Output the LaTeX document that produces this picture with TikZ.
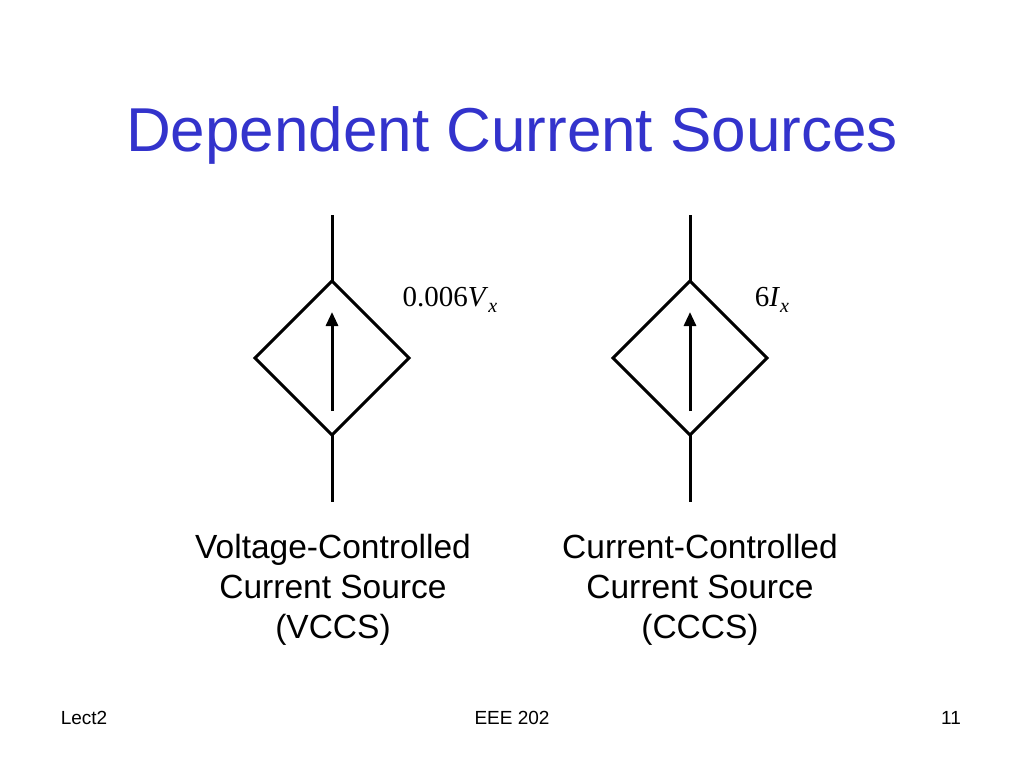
\documentclass[tikz,border=0pt]{standalone}
\usepackage{fontspec}
\setmainfont{Liberation Sans}
\newfontfamily\serifo{Liberation Serif}
\usetikzlibrary{arrows.meta}
\definecolor{titleblue}{RGB}{51,51,204}
\begin{document}
\begin{tikzpicture}[x=1pt,y=-1pt,
  wire/.style={line width=3pt},
  lab/.style={font=\fontsize{33.5}{40}\selectfont,align=center},
  foot/.style={font=\fontsize{19}{22}\selectfont}]
\useasboundingbox (0,0) rectangle (1024,768);
\node[font=\fontsize{62}{70}\selectfont,text=titleblue] (title) at (512,135) {Dependent Current Sources};
\foreach \n/\cx in {a/332,b/690}{
  \coordinate (\n t) at (\cx,215);
  \coordinate (\n b) at (\cx,502);
  \coordinate (\n N) at (\cx,281);
  \coordinate (\n S) at (\cx,435);
  \coordinate (\n W) at (\cx-77,358);
  \coordinate (\n E) at (\cx+77,358);
  \coordinate (\n as) at (\cx,411);
  \coordinate (\n ae) at (\cx,312);
  \draw[wire,line join=miter] (\n N) -- (\n E) -- (\n S) -- (\n W) -- cycle;
  \draw[wire] (\n t) -- (\n N);
  \draw[wire] (\n S) -- (\n b);
  \draw[wire,-{Triangle[length=14pt,width=12pt]}] (\n as) -- (\n ae);
}
\node[font=\fontsize{29}{34}\selectfont\serifo] (g1) at (450,300) {0.006\textit{V}\raisebox{-6pt}{\fontsize{20}{24}\selectfont\textit{x}}};
\node[font=\fontsize{29}{34}\selectfont\serifo] (g2) at (772,300) {6\textit{I}\raisebox{-6pt}{\fontsize{20}{24}\selectfont\textit{x}}};
\node[lab] (l1) at (333,590) {Voltage-Controlled\\Current Source\\(VCCS)};
\node[lab] (l2) at (700,590) {Current-Controlled\\Current Source\\(CCCS)};
\node[foot] (f1) at (84,718) {Lect2};
\node[foot] (f2) at (512,718) {EEE 202};
\node[foot] (f3) at (951,718) {11};
\end{tikzpicture}
\end{document}
